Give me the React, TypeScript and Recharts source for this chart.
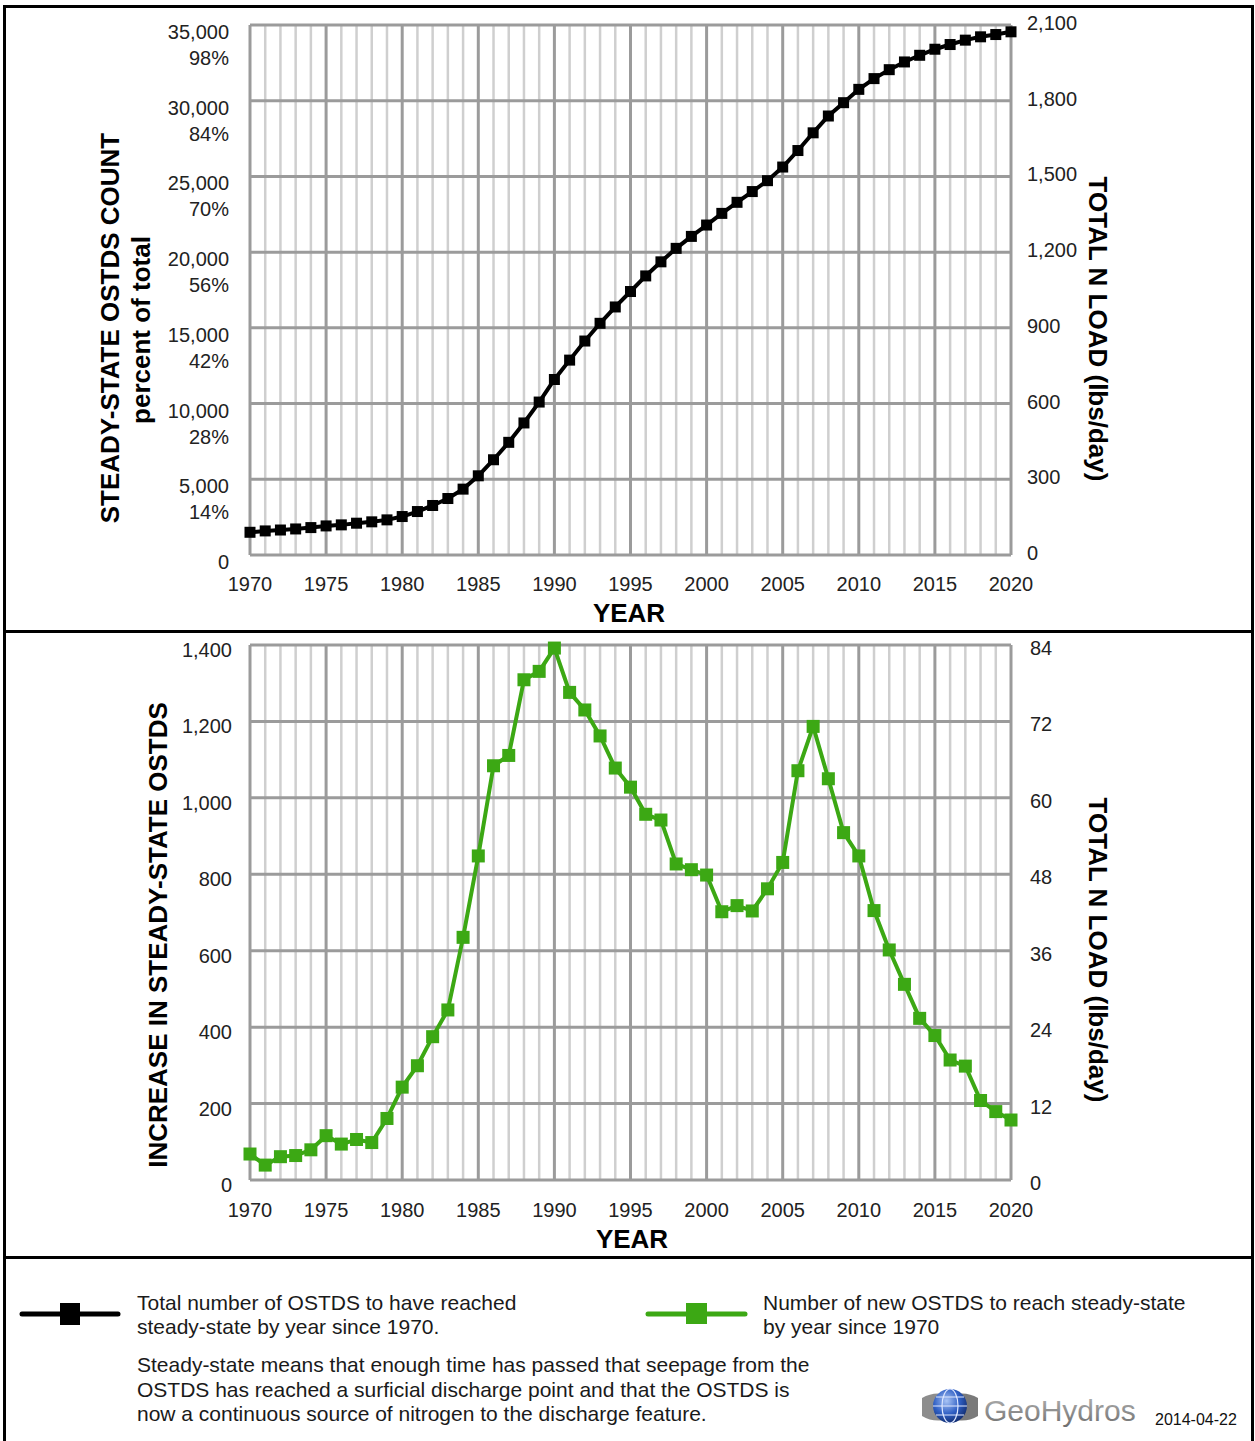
import React from "react";
import { LineChart, Line, XAxis, YAxis, ReferenceLine } from "recharts";

const years = [
  1970, 1971, 1972, 1973, 1974, 1975, 1976, 1977, 1978, 1979,
  1980, 1981, 1982, 1983, 1984, 1985, 1986, 1987, 1988, 1989,
  1990, 1991, 1992, 1993, 1994, 1995, 1996, 1997, 1998, 1999,
  2000, 2001, 2002, 2003, 2004, 2005, 2006, 2007, 2008, 2009,
  2010, 2011, 2012, 2013, 2014, 2015, 2016, 2017, 2018, 2019,
  2020,
];

// cumulative count of OSTDS at steady-state
const steadyStateTotal = [
  1500, 1590, 1650, 1720, 1810, 1920, 1990, 2100, 2190, 2320,
  2540, 2870, 3270, 3730, 4350, 5230, 6290, 7440, 8720, 10100,
  11590, 12870, 14130, 15300, 16380, 17400, 18430, 19360, 20250, 21040,
  21790, 22560, 23290, 24000, 24720, 25620, 26710, 27880, 28990, 29870,
  30750, 31460, 32050, 32560, 33000, 33400, 33710, 34000, 34220, 34370,
  34550,
];

// new OSTDS reaching steady-state each year
const newSteadyState = [
  68, 39, 61, 64, 79, 116, 94, 106, 98, 161,
  243, 299, 375, 445, 635, 848, 1084, 1111, 1309, 1331,
  1392, 1276, 1230, 1162, 1078, 1028, 957, 942, 827, 812,
  798, 702, 718, 704, 762, 831, 1071, 1187, 1050, 909,
  848, 705, 602, 512, 423, 378, 314, 298, 208, 179,
  157,
];

const yearTicks = [1970, 1975, 1980, 1985, 1990, 1995, 2000, 2005, 2010, 2015, 2020];
const countTicks = [0, 5000, 10000, 15000, 20000, 25000, 30000, 35000];
const percentLabels = ["", "14%", "28%", "42%", "56%", "70%", "84%", "98%"];
const loadTicksTop = [0, 300, 600, 900, 1200, 1500, 1800, 2100];
const increaseTicks = [0, 200, 400, 600, 800, 1000, 1200, 1400];
const loadTicksBottom = [0, 12, 24, 36, 48, 60, 72, 84];

const topData = years.map((year, i) => ({ year, total: steadyStateTotal[i] }));
const bottomData = years.map((year, i) => ({ year, added: newSteadyState[i] }));

const FONT = '"Liberation Sans", Arial, Helvetica, sans-serif';
const GREEN = "#3ca814";
const MAJOR = "#9b9b9b";
const MINOR = "#cfcfcf";

const fmt = (v: number) => v.toLocaleString("en-US");

const squareDot = (size: number, color: string) => (props: any) => {
  const { cx, cy, index } = props;
  if (cx == null || cy == null) return <g key={index} />;
  return (
    <rect key={index} x={cx - size / 2} y={cy - size / 2} width={size} height={size} fill={color} />
  );
};

function YearTick({ x, y, payload, dy }: any) {
  return (
    <text x={x} y={y + dy} textAnchor="middle" dominantBaseline="central" fontFamily={FONT} fontSize={20} fill="#222">
      {payload.value}
    </text>
  );
}

function CountTick({ x, y, payload }: any) {
  const pct = percentLabels[countTicks.indexOf(payload.value)];
  return (
    <g>
      <text x={x - 21} y={y + 7} textAnchor="end" dominantBaseline="central" fontFamily={FONT} fontSize={20} fill="#222">
        {fmt(payload.value)}
      </text>
      {pct ? (
        <text x={x - 21} y={y + 33} textAnchor="end" dominantBaseline="central" fontFamily={FONT} fontSize={20} fill="#222">
          {pct}
        </text>
      ) : null}
    </g>
  );
}

function SideTick({ x, y, payload, dx, dy, anchor }: any) {
  return (
    <text x={x + dx} y={y + dy} textAnchor={anchor} dominantBaseline="central" fontFamily={FONT} fontSize={20} fill="#222">
      {fmt(payload.value)}
    </text>
  );
}

function grid(yTicks: number[]) {
  const minor = years.filter((yr) => !yearTicks.includes(yr));
  return [
    ...minor.map((yr) => (
      <ReferenceLine key={"mi" + yr} yAxisId="left" x={yr} stroke={MINOR} strokeWidth={2.5} />
    )),
    ...yTicks.map((v) => (
      <ReferenceLine key={"h" + v} yAxisId="left" y={v} stroke={MAJOR} strokeWidth={3} />
    )),
    ...yearTicks.map((yr) => (
      <ReferenceLine key={"ma" + yr} yAxisId="left" x={yr} stroke={MAJOR} strokeWidth={3} />
    )),
  ];
}

// invisible series so the secondary (load) axis gets drawn
const ghost = (
  <Line
    yAxisId="right"
    dataKey="load"
    stroke="none"
    dot={false}
    activeDot={false}
    legendType="none"
    isAnimationActive={false}
  />
);

function TopChart() {
  return (
    <LineChart
      width={1255}
      height={631}
      data={topData}
      margin={{ top: 25, right: 164, left: 170, bottom: 46 }}
    >
      <XAxis
        dataKey="year"
        type="number"
        domain={[1970, 2020]}
        ticks={yearTicks}
        interval={0}
        axisLine={false}
        tickLine={false}
        tickSize={0}
        tickMargin={0}
        height={30}
        tick={(p: any) => <YearTick {...p} dy={29} />}
      />
      <YAxis
        yAxisId="left"
        domain={[0, 35000]}
        ticks={countTicks}
        interval={0}
        width={80}
        axisLine={false}
        tickLine={false}
        tickSize={0}
        tickMargin={0}
        tick={(p: any) => <CountTick {...p} />}
      />
      <YAxis
        yAxisId="right"
        orientation="right"
        type="number"
        domain={[0, 2100]}
        allowDataOverflow
        ticks={loadTicksTop}
        interval={0}
        width={80}
        axisLine={false}
        tickLine={false}
        tickSize={0}
        tickMargin={0}
        tick={(p: any) => <SideTick {...p} dx={16} dy={-2} anchor="start" />}
      />
      {grid(countTicks)}
      {ghost}
      <Line
        yAxisId="left"
        dataKey="total"
        stroke="#000"
        strokeWidth={4}
        dot={squareDot(11, "#000")}
        isAnimationActive={false}
      />
    </LineChart>
  );
}

function BottomChart() {
  return (
    <LineChart
      width={1255}
      height={626}
      data={bottomData}
      margin={{ top: 14, right: 164, left: 170, bottom: 47 }}
    >
      <XAxis
        dataKey="year"
        type="number"
        domain={[1970, 2020]}
        ticks={yearTicks}
        interval={0}
        axisLine={false}
        tickLine={false}
        tickSize={0}
        tickMargin={0}
        height={30}
        tick={(p: any) => <YearTick {...p} dy={30} />}
      />
      <YAxis
        yAxisId="left"
        domain={[0, 1400]}
        ticks={increaseTicks}
        interval={0}
        width={80}
        axisLine={false}
        tickLine={false}
        tickSize={0}
        tickMargin={0}
        tick={(p: any) => <SideTick {...p} dx={-18} dy={5} anchor="end" />}
      />
      <YAxis
        yAxisId="right"
        orientation="right"
        type="number"
        domain={[0, 84]}
        allowDataOverflow
        ticks={loadTicksBottom}
        interval={0}
        width={80}
        axisLine={false}
        tickLine={false}
        tickSize={0}
        tickMargin={0}
        tick={(p: any) => <SideTick {...p} dx={19} dy={3} anchor="start" />}
      />
      {grid(increaseTicks)}
      {ghost}
      <Line
        yAxisId="left"
        dataKey="added"
        stroke={GREEN}
        strokeWidth={4}
        dot={squareDot(13, GREEN)}
        isAnimationActive={false}
      />
    </LineChart>
  );
}

const titleStyle = { fontFamily: FONT, fontWeight: 700, fontSize: 26, fill: "#000" } as const;
const noteStyle = { fontFamily: FONT, fontSize: 21, fill: "#1a1a1a" } as const;

function Overlay() {
  return (
    <svg
      width={1255}
      height={1441}
      style={{ position: "absolute", left: 0, top: 0, pointerEvents: "none" }}
    >
      <defs>
        <radialGradient id="globe" cx="40%" cy="35%" r="70%">
          <stop offset="0%" stopColor="#a9c4f5" />
          <stop offset="55%" stopColor="#2f5fc4" />
          <stop offset="100%" stopColor="#102a6b" />
        </radialGradient>
        <linearGradient id="geo" x1="0" y1="0" x2="0" y2="1">
          <stop offset="0%" stopColor="#b5b5b5" />
          <stop offset="100%" stopColor="#6f6f6f" />
        </linearGradient>
      </defs>

      {/* frame */}
      <line x1={4.5} y1={5} x2={4.5} y2={1441} stroke="#000" strokeWidth={3} />
      <line x1={1252.5} y1={5} x2={1252.5} y2={1441} stroke="#000" strokeWidth={3} />
      <line x1={3} y1={6.5} x2={1254} y2={6.5} stroke="#000" strokeWidth={3} />
      <line x1={3} y1={631.5} x2={1254} y2={631.5} stroke="#000" strokeWidth={3} />
      <line x1={3} y1={1257.5} x2={1254} y2={1257.5} stroke="#000" strokeWidth={3} />

      {/* top chart titles */}
      <text x={110} y={328} transform="rotate(-90 110 328)" textAnchor="middle" dominantBaseline="central" style={titleStyle}>
        STEADY-STATE OSTDS COUNT
      </text>
      <text x={141} y={330} transform="rotate(-90 141 330)" textAnchor="middle" dominantBaseline="central" style={titleStyle}>
        percent of total
      </text>
      <text x={1098} y={329} transform="rotate(90 1098 329)" textAnchor="middle" dominantBaseline="central" style={titleStyle}>
        TOTAL N LOAD (lbs/day)
      </text>
      <text x={629} y={613} textAnchor="middle" dominantBaseline="central" style={titleStyle}>
        YEAR
      </text>

      {/* bottom chart titles */}
      <text x={158} y={935} transform="rotate(-90 158 935)" textAnchor="middle" dominantBaseline="central" style={titleStyle}>
        INCREASE IN STEADY-STATE OSTDS
      </text>
      <text x={1098} y={950} transform="rotate(90 1098 950)" textAnchor="middle" dominantBaseline="central" style={titleStyle}>
        TOTAL N LOAD (lbs/day)
      </text>
      <text x={632} y={1239} textAnchor="middle" dominantBaseline="central" style={titleStyle}>
        YEAR
      </text>

      {/* legend */}
      <line x1={22} y1={1314} x2={118} y2={1314} stroke="#000" strokeWidth={5} strokeLinecap="round" />
      <rect x={60} y={1303} width={20} height={22} fill="#000" />
      <text x={137} y={1302} dominantBaseline="central" style={noteStyle}>Total number of OSTDS to have reached</text>
      <text x={137} y={1326} dominantBaseline="central" style={noteStyle}>steady-state by year since 1970.</text>

      <line x1={648} y1={1314} x2={745} y2={1314} stroke={GREEN} strokeWidth={5} strokeLinecap="round" />
      <rect x={686} y={1303} width={21} height={21} fill={GREEN} />
      <text x={763} y={1302} dominantBaseline="central" style={noteStyle}>Number of new OSTDS to reach steady-state</text>
      <text x={763} y={1326} dominantBaseline="central" style={noteStyle}>by year since 1970</text>

      <text x={137} y={1364} dominantBaseline="central" style={noteStyle}>
        Steady-state means that enough time has passed that seepage from the
      </text>
      <text x={137} y={1389} dominantBaseline="central" style={noteStyle}>
        OSTDS has reached a surficial discharge point and that the OSTDS is
      </text>
      <text x={137} y={1413} dominantBaseline="central" style={noteStyle}>
        now a continuous source of nitrogen to the discharge feature.
      </text>

      {/* GeoHydros mark */}
      <path d="M922 1398 Q932 1392 944 1394 L944 1420 Q932 1422 922 1416 Z" fill="#8d8d8d" />
      <path d="M956 1394 Q968 1392 978 1398 L978 1416 Q968 1422 956 1420 Z" fill="#7a7a7a" />
      <circle cx={950} cy={1406} r={17} fill="url(#globe)" />
      <ellipse cx={950} cy={1406} rx={8} ry={17} fill="none" stroke="#dfe8ff" strokeWidth={1.2} />
      <line x1={933} y1={1406} x2={967} y2={1406} stroke="#dfe8ff" strokeWidth={1.2} />
      <line x1={936} y1={1397} x2={964} y2={1397} stroke="#dfe8ff" strokeWidth={1} />
      <line x1={936} y1={1415} x2={964} y2={1415} stroke="#dfe8ff" strokeWidth={1} />
      <text x={984} y={1410} dominantBaseline="central" fontFamily={FONT} fontSize={30} fill="url(#geo)">
        GeoHydros
      </text>
      <text x={1155} y={1419} dominantBaseline="central" fontFamily={FONT} fontSize={16} fill="#111">
        2014-04-22
      </text>
    </svg>
  );
}

export default function App() {
  return (
    <div
      style={{
        position: "absolute",
        left: 0,
        top: 0,
        width: 1255,
        height: 1441,
        overflow: "hidden",
        background: "#fff",
      }}
    >
      <div style={{ position: "absolute", left: 0, top: 0 }}>
        <TopChart />
      </div>
      <div style={{ position: "absolute", left: 0, top: 631 }}>
        <BottomChart />
      </div>
      <Overlay />
    </div>
  );
}
